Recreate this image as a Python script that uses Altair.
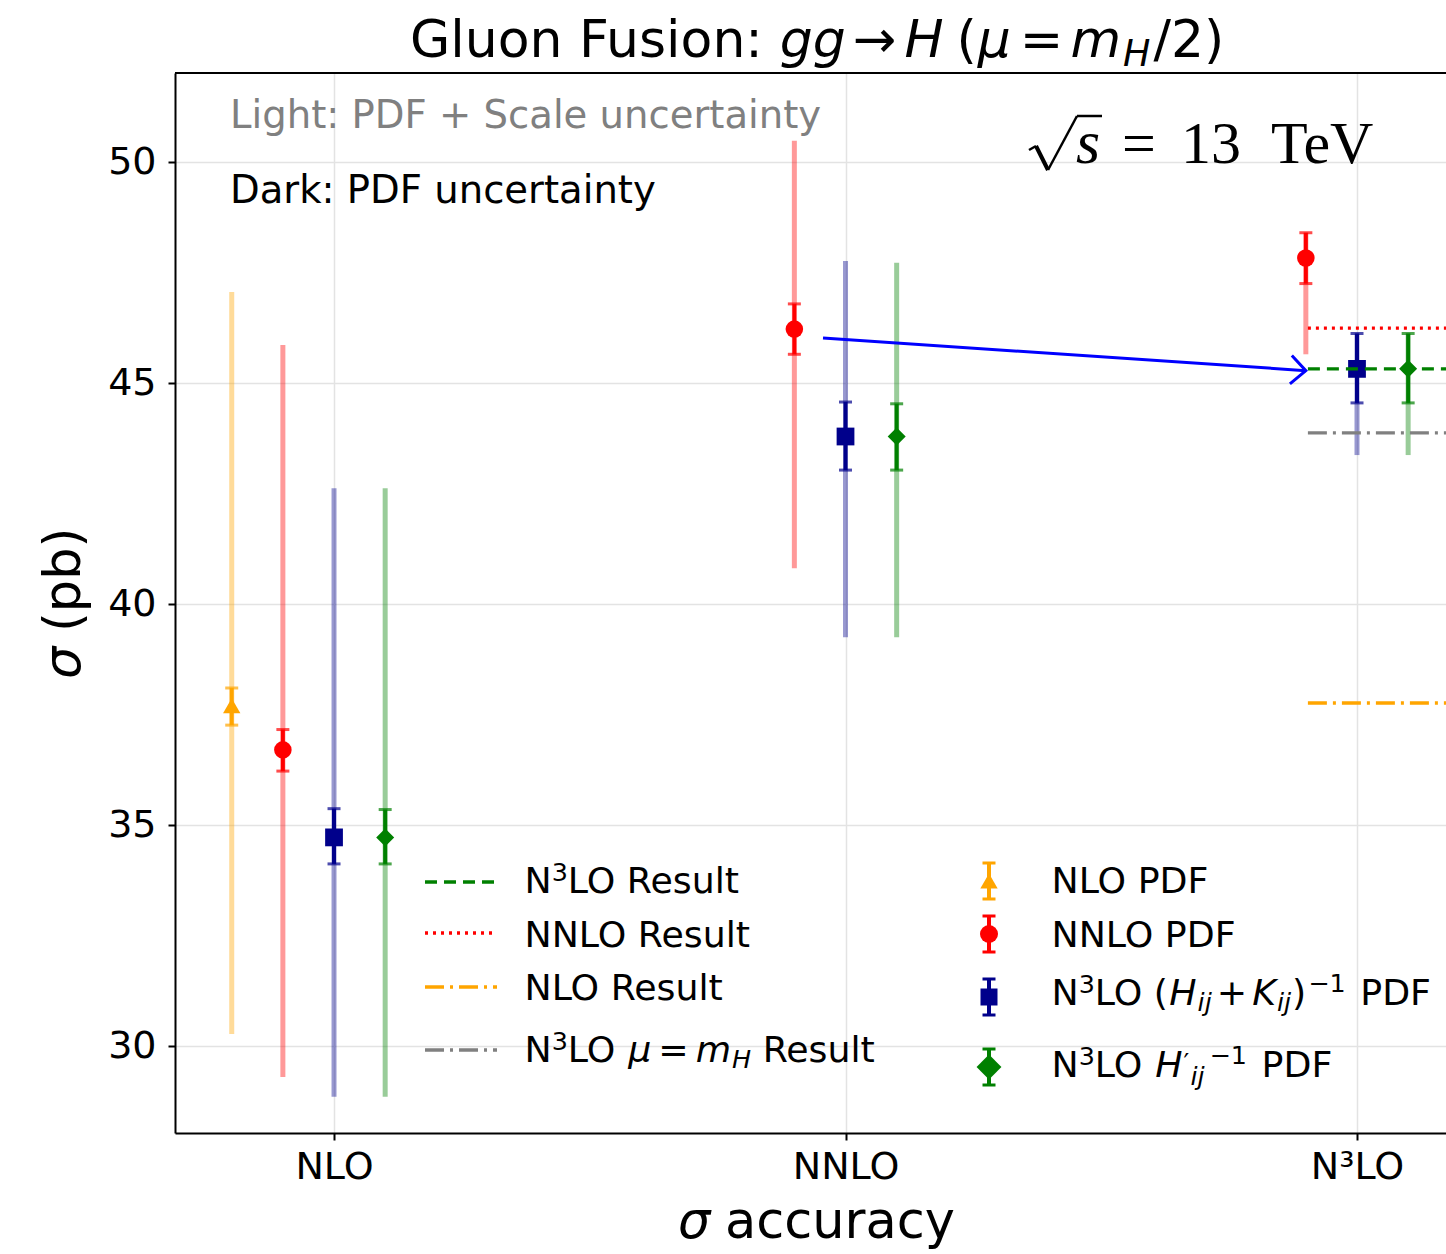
import math
import altair as alt
import pandas as pd

SANS = "DejaVu Sans"
SERIF = "Liberation Serif"

# ---------------- data ----------------
order_labels = ["NLO", "NNLO", "N³LO"]
order_ticks = [0, 1, 2]
y_ticks = [30, 35, 40, 45, 50]

series_names = ["NLO PDF", "NNLO PDF", "N3LO (Hij+Kij)^-1 PDF", "N3LO H'ij^-1 PDF"]
series_colors = ["#FFA500", "#FF0000", "#00008B", "#008000"]
series_shapes = ["triangle-up", "circle", "square", "diamond"]
series_sizes = [300, 324, 289, 620]

pt_series = ["NLO PDF", "NNLO PDF", "N3LO (Hij+Kij)^-1 PDF", "N3LO H'ij^-1 PDF",
             "NNLO PDF", "N3LO (Hij+Kij)^-1 PDF", "N3LO H'ij^-1 PDF",
             "NNLO PDF", "N3LO (Hij+Kij)^-1 PDF", "N3LO H'ij^-1 PDF"]
pt_x = [-0.2, -0.1, 0.0, 0.1, 0.9, 1.0, 1.1, 1.9, 2.0, 2.1]
pt_center = [37.70, 36.70, 34.72, 34.72, 46.22, 43.79, 43.79, 47.83, 45.32, 45.32]
pdf_lo = [37.26, 36.22, 34.12, 34.12, 45.65, 43.03, 43.03, 47.25, 44.55, 44.55]
pdf_hi = [38.10, 37.16, 35.37, 35.35, 46.79, 44.57, 44.53, 48.40, 46.12, 46.12]
tot_lo = [30.27, 29.30, 28.85, 28.85, 40.81, 39.25, 39.25, 45.65, 43.37, 43.37]
tot_hi = [47.06, 45.86, 42.62, 42.62, 50.48, 47.76, 47.72, 48.40, 46.12, 46.12]

result_names = ["N3LO Result", "NNLO Result", "NLO Result", "N3LO mu=mH Result"]
result_values = [45.32, 46.24, 37.76, 43.87]
result_colors = ["#008000", "#FF0000", "#FFA500", "#808080"]
result_dashes = [[12, 7], [3, 5], [19, 6, 3, 6], [19, 6, 3, 6]]
result_x_start = 1.904
result_x_end = 2.4

arrow_x = [0.956, 1.9]
arrow_y = [46.02, 45.28]

# ---------------- layout ----------------
PAD_L, PAD_T, W, H = 175, 73, 1271, 1060
PAD_B = 1254 - PAD_T - H
X0, X1 = -0.3109, 2.1740
Y0, Y1 = 28.032, 52.014

ONE = pd.DataFrame({"k": [0]})

ADV = {' ': .318, '(': .390, ')': .390, '+': .838, '−': .838, '=': .838, '/': .337,
       ':': .337, '→': .838, '′': .275, '0': .636, '1': .636, '2': .636, '3': .636,
       'μ': .636, 'σ': .602, 'D': .770, 'F': .575, 'G': .775, 'H': .752, 'K': .656,
       'L': .557, 'N': .748, 'O': .787, 'P': .603, 'R': .695, 'S': .635, 'a': .613,
       'b': .635, 'c': .550, 'e': .615, 'g': .635, 'i': .278, 'j': .278, 'l': .278,
       'm': .974, 'n': .634, 'o': .612, 'p': .635, 'r': .411, 's': .521, 't': .392,
       'u': .634, 'y': .592}


def adv(s):
    return sum(ADV.get(c, 0.6) for c in s)


def T(txt, x, y, size, italic=False, color="black", font=SANS, angle=None):
    kw = dict(align="left", baseline="alphabetic", font=font, fontSize=size,
              color=color, fontStyle="italic" if italic else "normal")
    if angle is not None:
        kw["angle"] = angle
    return alt.Chart(ONE).mark_text(**kw).encode(
        x=alt.value(x), y=alt.value(y), text=alt.value(txt))


def rich(parts, x, y, size, color="black", font=SANS, vertical=False):
    out = []
    cur = 0.0
    for p in parts:
        txt = p[0]
        o = p[1] if len(p) > 1 else {}
        cur += o.get("gap", 0)
        fs = size * o.get("sc", 1)
        lead = len(txt) - len(txt.lstrip(" "))
        if lead:
            cur += lead * ADV[" "] * fs
            txt = txt.lstrip(" ")
        dy = o.get("dy", 0)
        it = o.get("it", False)
        if vertical:
            out.append(T(txt, x + dy, y - cur, fs, it, color, font, angle=270))
        else:
            out.append(T(txt, x + cur, y + dy, fs, it, color, font))
        if o.get("adv", True):
            cur += adv(txt) * fs
    return out


x_scale = alt.Scale(domain=[X0, X1], nice=False, zero=False)
y_scale = alt.Scale(domain=[Y0, Y1], nice=False, zero=False)
label_js = "[" + ",".join("'%s'" % s for s in order_labels) + "][datum.value]"
x_axis = alt.Axis(values=order_ticks, labelExpr=label_js, title=None, grid=True,
                  labelPadding=8)
y_axis = alt.Axis(values=y_ticks, title=None, grid=True, labelPadding=12)


def X(f):
    return alt.X(f, type="quantitative", scale=x_scale, axis=x_axis)


def Y(f):
    return alt.Y(f, type="quantitative", scale=y_scale, axis=y_axis)


pts = pd.DataFrame({"series": pt_series, "x": pt_x, "c": pt_center,
                    "plo": pdf_lo, "phi": pdf_hi, "tlo": tot_lo, "thi": tot_hi})
color_enc = alt.Color("series:N", scale=alt.Scale(domain=series_names, range=series_colors),
                      legend=None)

layers = []
base = alt.Chart(pts)
layers.append(base.mark_rule(strokeWidth=5, opacity=0.4).encode(
    x=X("x"), y=Y("tlo"), y2="thi", color=color_enc))
layers.append(base.mark_rule(strokeWidth=4).encode(
    x=X("x"), y=Y("plo"), y2="phi", color=color_enc))
layers.append(base.mark_tick(orient="horizontal", size=13, thickness=3).encode(
    x=X("x"), y=Y("plo"), color=color_enc))
layers.append(base.mark_tick(orient="horizontal", size=13, thickness=3).encode(
    x=X("x"), y=Y("phi"), color=color_enc))
layers.append(base.mark_point(filled=True, opacity=1, strokeWidth=0).encode(
    x=X("x"), y=Y("c"), color=color_enc,
    shape=alt.Shape("series:N", scale=alt.Scale(domain=series_names, range=series_shapes), legend=None),
    size=alt.Size("series:N", scale=alt.Scale(domain=series_names, range=series_sizes), legend=None)))

# horizontal result lines
for name, val, col, dash in zip(result_names, result_values, result_colors, result_dashes):
    df = pd.DataFrame({"x": [result_x_start], "x2": [result_x_end], "y": [val]})
    layers.append(alt.Chart(df).mark_rule(strokeWidth=3.3, color=col, strokeDash=dash, clip=True)
                  .encode(x=X("x"), x2="x2", y=Y("y")))

# arrow
adf = pd.DataFrame({"x": arrow_x, "y": arrow_y})
layers.append(alt.Chart(adf).mark_line(color="#0000FF", strokeWidth=3).encode(x=X("x"), y=Y("y")))
ppx = W / (X1 - X0)
ppy = H / (Y1 - Y0)
ang = math.degrees(math.atan2((arrow_y[0] - arrow_y[1]) * ppy, (arrow_x[1] - arrow_x[0]) * ppx))
tip = pd.DataFrame({"x": [arrow_x[1]], "y": [arrow_y[1]]})
layers.append(alt.Chart(tip).mark_point(shape="M-1,-0.95L0,0L-1,0.95", filled=False, size=900,
                                        color="#0000FF", strokeWidth=3, angle=ang, opacity=1)
              .encode(x=X("x"), y=Y("y")))

# top frame line
layers.append(alt.Chart(ONE).mark_rule(color="black", strokeWidth=2).encode(
    x=alt.value(0), x2=alt.value(W), y=alt.value(0)))

# title
layers += rich([("Gluon Fusion:",), ("gg", {"it": True, "gap": 14}), ("→", {"gap": 7}),
                ("H", {"it": True, "gap": 8}), ("(", {"gap": 13}), ("μ", {"it": True, "gap": 1}),
                ("=", {"gap": 9}), ("m", {"it": True, "gap": 7}),
                ("H", {"it": True, "sc": 0.7, "dy": 9, "gap": 2}), ("/2)", {"gap": 3})],
               235, -16, 52)
# axis titles
layers += rich([("σ", {"it": True}), (" (pb)",)], -95, 606, 51, vertical=True)
layers += rich([("σ", {"it": True}), (" accuracy",)], 503, 1165, 51)

# annotations
layers.append(T("Light: PDF + Scale uncertainty", 55, 55, 38.6, color="#808080"))
layers.append(T("Dark: PDF uncertainty", 55, 130, 38.6))

# sqrt(s) = 13 TeV
rad = [(854, 77, 861, 73, 2.5), (861, 73, 873, 97, 4), (873, 97, 902, 43, 2.5), (902, 43, 927, 43, 2.5)]
for a, b, c, d, sw in rad:
    layers.append(alt.Chart(ONE).mark_rule(color="black", strokeWidth=sw).encode(
        x=alt.value(a), y=alt.value(b), x2=alt.value(c), y2=alt.value(d)))
layers.append(T("s", 901, 90, 62, italic=True, font=SERIF))
layers.append(T("=", 947, 90, 60, font=SERIF))
layers.append(T("13", 1006, 90, 60, font=SERIF))
layers.append(T("TeV", 1096, 90, 60, font=SERIF))

# ---------------- legend ----------------
SUP = {"sc": 0.7, "dy": -12}
left_rows_y = [809, 860, 914, 977]
left_base = [820, 874, 927, 989]
left_parts = [
    [("N",), ("3", SUP), ("LO Result",)],
    [("NNLO Result",)],
    [("NLO Result",)],
    [("N",), ("3", SUP), ("LO ",), ("μ", {"it": True}), ("=", {"gap": 7}),
     ("m", {"it": True, "gap": 7}), ("H", {"it": True, "sc": 0.7, "dy": 6, "gap": 1}), (" Result",)],
]
for yl, yb, parts, col, dash in zip(left_rows_y, left_base, left_parts, result_colors, result_dashes):
    layers.append(alt.Chart(ONE).mark_rule(strokeWidth=3.3, color=col, strokeDash=dash).encode(
        x=alt.value(250), x2=alt.value(322), y=alt.value(yl)))
    layers += rich(parts, 349.5, yb, 36.3)

right_rows_y = [808, 861, 924, 994]
right_base = [820, 874, 932, 1004]
right_parts = [
    [("NLO PDF",)],
    [("NNLO PDF",)],
    [("N",), ("3", SUP), ("LO (",), ("H", {"it": True}), ("ij", {"it": True, "sc": 0.7, "dy": 6, "gap": 1}),
     ("+", {"gap": 5}), ("K", {"it": True, "gap": 5}), ("ij", {"it": True, "sc": 0.7, "dy": 6, "gap": 1}),
     (")", {"gap": 1}), ("−1", {"sc": 0.7, "dy": -13, "gap": 2}), (" PDF", {"gap": 3})],
    [("N",), ("3", SUP), ("LO ",), ("H", {"it": True}), ("′", {"sc": 0.7, "dy": -6, "gap": 1}),
     ("ij", {"it": True, "sc": 0.7, "dy": 8, "gap": 0}), ("−1", {"sc": 0.7, "dy": -13, "gap": 5}),
     (" PDF", {"gap": 3})],
]
MX = 814
for yc, yb, parts, col, shp, sz in zip(right_rows_y, right_base, right_parts, series_colors,
                                        series_shapes, series_sizes):
    layers.append(alt.Chart(ONE).mark_rule(strokeWidth=4, color=col).encode(
        x=alt.value(MX), y=alt.value(yc - 18), y2=alt.value(yc + 18)))
    for yy in (yc - 18, yc + 18):
        layers.append(alt.Chart(ONE).mark_rule(strokeWidth=3, color=col).encode(
            x=alt.value(MX - 6.5), x2=alt.value(MX + 6.5), y=alt.value(yy)))
    layers.append(alt.Chart(ONE).mark_point(shape=shp, size=sz, filled=True, opacity=1,
                                            color=col, strokeWidth=0).encode(
        x=alt.value(MX), y=alt.value(yc)))
    layers += rich(parts, 876.5, yb, 36.3)

chart = alt.layer(*layers).properties(
    width=W, height=H,
    padding={"left": PAD_L, "top": PAD_T, "right": 0, "bottom": PAD_B},
    autosize=alt.AutoSizeParams(type="none"),
    background="white",
).configure_view(stroke=None).configure_axis(
    domainColor="black", domainWidth=2, tickColor="black", tickWidth=2, tickSize=7,
    labelFont=SANS, labelFontSize=38, labelColor="black",
    gridColor="#e3e3e3", gridWidth=1.5,
)

chart.save("out.html", embed_options={"renderer": "svg", "actions": False})
